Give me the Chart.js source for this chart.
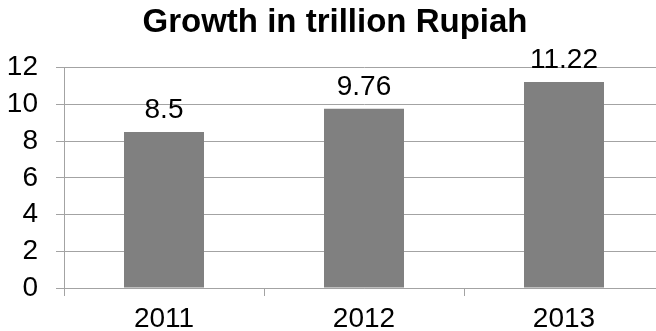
<!DOCTYPE html>
<html>
<head>
<meta charset="utf-8">
<script src="https://cdn.jsdelivr.net/npm/chart.js@4.4.0/dist/chart.umd.min.js"></script>
<style>
    html, body { margin: 0; padding: 0; background: #fff; overflow: hidden; }
    #wrap { width: 656px; height: 331px; overflow: hidden; }
</style>
</head>
<body>
<div id="wrap"><canvas id="growthChart" width="664" height="331"></canvas></div>
<script>
// Data
const years = ['2011', '2012', '2013'];
const growth = [8.5, 9.76, 11.22];
const yTicks = [0, 2, 4, 6, 8, 10, 12];

// Colors
const barColor = '#808080';
const gridColor = '#a3a3a3';
const textColor = '#000000';
const fontFamily = 'Arial, "Liberation Sans", sans-serif';

// Value labels above each bar
const valueLabels = {
    id: 'valueLabels',
    afterDatasetsDraw(chart) {
        const ctx = chart.ctx;
        const meta = chart.getDatasetMeta(0);
        ctx.save();
        ctx.font = '28px ' + fontFamily;
        ctx.fillStyle = textColor;
        ctx.textAlign = 'center';
        ctx.textBaseline = 'alphabetic';
        meta.data.forEach((bar, i) => {
            ctx.fillText(String(growth[i]), bar.x, bar.y - 14);
        });
        ctx.restore();
    }
};

const ctx = document.getElementById('growthChart').getContext('2d');
const growthChart = new Chart(ctx, {
    type: 'bar',
    data: {
        labels: years,
        datasets: [{
            label: 'Growth',
            data: growth,
            backgroundColor: barColor,
            borderWidth: 0,
            barPercentage: 0.4,
            categoryPercentage: 1
        }]
    },
    options: {
        responsive: false,
        devicePixelRatio: 1,
        animation: false,
        layout: {
            padding: { left: 6, right: 0, top: 0, bottom: 0 }
        },
        plugins: {
            legend: { display: false },
            tooltip: { enabled: false },
            title: {
                display: true,
                text: 'Growth in trillion Rupiah',
                color: textColor,
                font: { family: fontFamily, size: 33, weight: 'bold', lineHeight: 1.2 },
                padding: { top: 3, bottom: 25 }
            }
        },
        scales: {
            x: {
                grid: {
                    offset: true,
                    drawOnChartArea: false,
                    drawTicks: true,
                    tickLength: 8,
                    color: gridColor
                },
                border: { display: true, color: gridColor },
                ticks: {
                    color: textColor,
                    padding: 6,
                    font: { family: fontFamily, size: 28 }
                },
                afterFit(scale) { scale.height = 43; }
            },
            y: {
                min: 0,
                max: 12,
                afterBuildTicks(scale) {
                    scale.ticks = yTicks.map(v => ({ value: v }));
                },
                grid: {
                    color: gridColor,
                    tickLength: 8
                },
                border: { display: true, color: gridColor },
                ticks: {
                    color: textColor,
                    padding: 18,
                    font: { family: fontFamily, size: 28 }
                },
                afterFit(scale) { scale.width = 58; }
            }
        }
    },
    plugins: [valueLabels]
});
</script>
</body>
</html>
